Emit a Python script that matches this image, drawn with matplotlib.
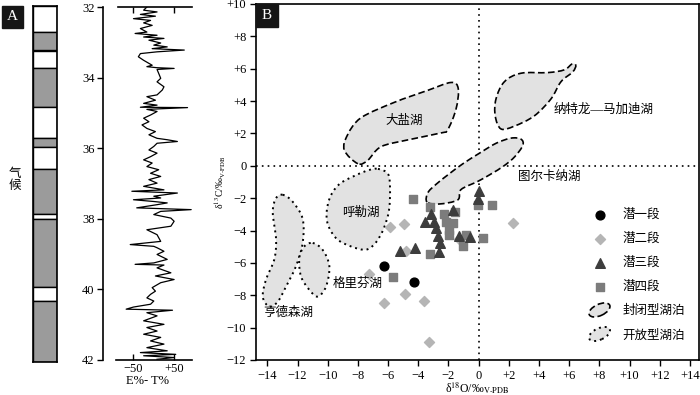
import matplotlib
matplotlib.use('Agg')
import matplotlib.pyplot as plt
import matplotlib.patches as mpatches
from matplotlib.path import Path
from matplotlib.legend_handler import HandlerPatch
import numpy as np

plt.rcParams['font.family'] = ['Liberation Serif', 'Noto Sans CJK SC']
plt.rcParams['mathtext.fontset'] = 'stix'

# ---- panel A data ----
climate_bounds = [32.0, 32.74, 33.25, 33.73, 34.83, 35.71, 35.97, 36.59, 37.84, 37.98, 39.90, 40.30, 42.0]
climate_gray = [False, True, False, True, False, True, False, True, False, True, False, True]

et_depth = [32.00, 32.09, 32.14, 32.21, 32.26, 32.33, 32.38, 32.45, 32.52, 32.61,
            32.71, 32.75, 32.80, 32.85, 32.89, 32.94, 33.02, 33.08, 33.13, 33.18,
            33.22, 33.27, 33.32, 33.41, 33.51, 33.65, 33.69, 33.72, 33.74, 33.77,
            33.88, 34.02, 34.12, 34.26, 34.35, 34.49, 34.54, 34.64, 34.73, 34.78,
            34.84, 34.85, 34.90, 34.96, 35.06, 35.15, 35.25, 35.34, 35.44, 35.53,
            35.62, 35.72, 35.76, 35.81, 35.86, 35.95, 36.05, 36.14, 36.24, 36.33,
            36.42, 36.52, 36.61, 36.71, 36.80, 36.89, 36.99, 37.08, 37.18, 37.22,
            37.27, 37.36,
            37.41, 37.46, 37.51, 37.55, 37.60, 37.69, 37.74, 37.79, 37.88, 37.98,
            38.07, 38.21, 38.31, 38.45, 38.64, 38.73, 38.78, 38.82, 38.92, 39.01,
            39.15, 39.25, 39.29, 39.31, 39.39, 39.53, 39.62, 39.72, 39.81, 39.95,
            40.05, 40.14, 40.24, 40.33, 40.42, 40.50, 40.56, 40.59, 40.66, 40.75,
            40.89, 40.99, 41.08, 41.18, 41.27, 41.36, 41.46, 41.55, 41.65, 41.74,
            41.79, 41.84, 41.88, 41.93, 41.98]
et_value = [-17, -25, 8, -33, 4, -50, -8, -25, -4, -33,
            -17, -46, 8, -25, 25, -12, 17, 0, 33, -4,
            75, 8, -33, -38, -25, -4, -17, 8, 50, 8,
            12, 17, 8, 25, 21, 8, -17, 4, -25, 8,
            -33, 83, -17, 8, -8, -25, -12, -29, -17, 4,
            -12, 8, 33, 58, 8, 0, -12, 8, -8, -25,
            -4, -17, 12, -8, 17, -12, 8, -25, 25, -54,
            58, 0,
            17, -50, 0, 33, 8, -42, 92, 17, 0, 42,
            50, 42, -17, 8, 17, -58, 0, 8, 25, 8,
            33, 0, -46, 25, 8, 42, 4, 50, 17, -4,
            4, -8, -17, 0, -8, -50, -68, 46, -17, 8,
            -25, 25, -17, 8, -25, 17, -8, 25, -17, 33,
            -33, 54, -25, 50, 8]

# ---- panel B data ----
m1_x = [-6.3, -4.25]
m1_y = [-6.2, -7.2]
m2_x = [-7.25, -5.9, -4.95, -4.8, -6.3, -4.9, -3.6, -3.3, 2.3, -1.3]
m2_y = [-6.7, -3.8, -3.6, -5.25, -8.45, -7.9, -8.35, -10.9, -3.55, -4.55]
m3_x = [-5.2, -4.2, -3.55, -3.15, -2.95, -2.85, -2.7, -2.55, -2.6, -1.7, -1.3, -0.6, 0.0, -0.05]
m3_y = [-5.25, -5.05, -3.45, -3.0, -3.45, -3.85, -4.35, -4.75, -5.3, -2.75, -4.35, -4.4, -1.55, -2.05]
m4_x = [-4.35, -3.25, -2.3, -1.55, -2.15, -1.7, -1.95, -1.95, -0.85, -1.05, -0.05, 0.9, 0.3, -3.2, -5.7]
m4_y = [-2.05, -2.55, -2.95, -2.85, -3.5, -3.55, -3.95, -4.25, -4.3, -4.95, -2.45, -2.45, -4.45, -5.45, -6.9]

lake_dayan = [(-8.0, 0.13), (-8.9, 0.97), (-8.68, 1.92), (-7.79, 2.97), (-5.59, 3.92), (-3.38, 4.66),
              (-1.83, 5.15), (-1.35, 4.77), (-1.5, 3.5), (-2.05, 2.23), (-2.5, 2.03), (-4.7, 1.6),
              (-6.47, 1.18), (-7.35, 0.34)]
lake_natron = [(6.44, 6.2), (6.23, 5.8), (5.45, 5.19), (4.79, 4.13), (3.68, 3.08), (2.36, 2.45),
               (1.48, 2.28), (1.1, 3.08), (1.15, 4.13), (1.7, 5.19), (2.8, 5.72), (4.57, 5.76),
               (5.67, 5.93), (6.2, 6.3)]
lake_turkana = [(-3.42, -2.24), (-3.36, -1.66), (-2.83, -1.15), (-1.97, -0.51), (-1.04, 0.13),
                (0.02, 0.76), (1.15, 1.39), (2.14, 1.71), (2.8, 1.65), (2.93, 1.27), (2.4, 0.57),
                (1.68, 0.0), (0.81, -0.51), (-0.05, -0.96), (-1.17, -1.47), (-1.39, -2.11),
                (-2.63, -2.36)]
lake_hule = [(-6.67, -0.19), (-6.0, -0.51), (-5.87, -1.47), (-5.94, -2.75), (-6.27, -3.83),
             (-6.8, -4.73), (-7.46, -5.18), (-8.46, -4.98), (-9.45, -4.47), (-10.05, -3.39),
             (-9.91, -2.11), (-9.25, -1.15), (-8.13, -0.58), (-7.26, -0.26)]
lake_henderson = [(-12.98, -1.79), (-12.32, -2.22), (-11.66, -3.28), (-11.66, -4.77), (-12.1, -6.2),
                  (-12.76, -7.46), (-13.31, -8.4), (-13.87, -8.7), (-14.3, -8.1), (-14.09, -7.04),
                  (-13.54, -5.79), (-13.42, -4.56), (-13.64, -2.86), (-13.42, -2.0)]
lake_griffin = [(-10.99, -4.77), (-10.33, -5.2), (-9.89, -6.2), (-10.11, -7.46), (-10.66, -8.08),
                (-11.22, -7.66), (-11.77, -6.83), (-11.88, -5.7), (-11.55, -4.98)]

closed_lakes = [(lake_dayan, '大盐湖', (-4.93, 2.8)),
                (lake_natron, '纳特龙—马加迪湖', (8.3, 3.5)),
                (lake_turkana, '图尔卡纳湖', (4.7, -0.7))]
open_lakes = [(lake_hule, '呼勒湖', (-7.8, -2.9)),
              (lake_henderson, '亨德森湖', (-12.6, -9.1)),
              (lake_griffin, '格里芬湖', (-8.0, -7.3))]


def smooth_closed(pts):
    # closed catmull-rom outline turned into bezier segments
    p = np.array(pts, dtype=float)
    n = len(p)
    verts = [p[0]]
    codes = [Path.MOVETO]
    for i in range(n):
        p0, p1, p2, p3 = p[i - 1], p[i], p[(i + 1) % n], p[(i + 2) % n]
        verts += [p1 + (p2 - p0) / 6, p2 - (p3 - p1) / 6, p2]
        codes += [Path.CURVE4] * 3
    return Path(verts, codes)


class HandlerEllipse(HandlerPatch):
    def create_artists(self, legend, orig_handle, xdescent, ydescent, width, height, fontsize, trans):
        c = (0.5 * width - xdescent, 0.5 * height - ydescent)
        p = mpatches.Ellipse(c, width * 1.0, height * 1.3, angle=25)
        self.update_prop(p, orig_handle, legend)
        p.set_transform(trans)
        return [p]


fig = plt.figure(figsize=(7, 3.95), dpi=100)
W, H = 700.0, 395.0


def px_axes(x0, y0, x1, y1):
    return fig.add_axes([x0 / W, 1 - y1 / H, (x1 - x0) / W, (y1 - y0) / H])


# ---- climate strip ----
ax_s = px_axes(33, 6, 57, 362)
for i in range(len(climate_gray)):
    b0, b1 = climate_bounds[i], climate_bounds[i + 1]
    ax_s.bar(0.5, b1 - b0, bottom=b0, width=1.0,
             color='#9b9b9b' if climate_gray[i] else 'white', edgecolor='black', linewidth=1.0)
ax_s.set_xlim(0, 1)
ax_s.set_ylim(42, 32)
ax_s.set_xticks([])
ax_s.set_yticks([])
for s in ax_s.spines.values():
    s.set_linewidth(1.2)

# ---- E%-T% curve ----
ax_c = px_axes(103, 7, 192, 360)
ax_c.plot(et_value, et_depth, color='black', lw=0.9)
ax_c.set_xlim(-125, 94)
ax_c.set_ylim(42, 32)
ax_c.spines['right'].set_visible(False)
ax_c.spines['top'].set_bounds(-88, 94)
ax_c.spines['bottom'].set_bounds(-93, 94)
for s in ax_c.spines.values():
    s.set_linewidth(1.2)
ax_c.set_yticks([32, 34, 36, 38, 40, 42])
ax_c.tick_params(axis='y', direction='out', length=4, width=1, pad=2, labelsize=9)
ax_c.set_xticks([-50, 50])
ax_c.set_xticklabels(['\u221250', '+50'])
ax_c.tick_params(axis='x', direction='in', length=4, width=1, pad=2, labelsize=9,
                 top=True, labeltop=False)
ax_c.set_xlabel('E%- T%', fontsize=9, labelpad=0)

# ---- panel B ----
ax = px_axes(256, 4, 699, 360)
ax.axhline(0, color='black', ls=(0, (1, 2.5)), lw=1.2, zorder=1)
ax.axvline(0, color='black', ls=(0, (1, 2.5)), lw=1.2, zorder=1)
for pts, name, (lx, ly) in closed_lakes:
    ax.add_patch(mpatches.PathPatch(smooth_closed(pts), facecolor='#e2e2e2', edgecolor='black',
                                    lw=1.2, ls=(0, (4, 2)), zorder=2))
    ax.text(lx, ly, name, fontsize=9, ha='center', va='center', zorder=5)
for pts, name, (lx, ly) in open_lakes:
    ax.add_patch(mpatches.PathPatch(smooth_closed(pts), facecolor='#e2e2e2', edgecolor='black',
                                    lw=1.4, ls=(0, (1, 2)), zorder=2))
    ax.text(lx, ly, name, fontsize=9, ha='center', va='center', zorder=5)

h1 = ax.scatter(m1_x, m1_y, marker='o', s=40, color='black', zorder=4)
h2 = ax.scatter(m2_x, m2_y, marker='D', s=26, color='#b5b5b5', zorder=3)
h3 = ax.scatter(m3_x, m3_y, marker='^', s=48, color='#3d3d3d', zorder=4)
h4 = ax.scatter(m4_x, m4_y, marker='s', s=26, color='#7c7c7c', zorder=3)
e1 = mpatches.Ellipse((0, 0), 1, 1, facecolor='#e2e2e2', edgecolor='black', lw=1.2, ls=(0, (4, 2)))
e2 = mpatches.Ellipse((0, 0), 1, 1, facecolor='#e2e2e2', edgecolor='black', lw=1.4, ls=(0, (1, 2)))
ax.legend([h1, h2, h3, h4, e1, e2], ['潜一段', '潜二段', '潜三段', '潜四段', '封闭型湖泊', '开放型湖泊'],
          loc='upper left', bbox_to_anchor=(0.75, 0.425), frameon=False, fontsize=9,
          handlelength=1.8, handletextpad=0.95, labelspacing=0.95, borderpad=0, borderaxespad=0,
          scatterpoints=1, handler_map={mpatches.Ellipse: HandlerEllipse()})

ax.set_xlim(-14.75, 14.6)
ax.set_ylim(-12, 10)
xt = list(range(-14, 15, 2))
ax.set_xticks(xt)
ax.set_xticklabels([('+%d' % v if v > 0 else ('0' if v == 0 else '\u2212%d' % -v)) for v in xt])
yt = list(range(-12, 11, 2))
ax.set_yticks(yt)
ax.set_yticklabels([('+%d' % v if v > 0 else ('0' if v == 0 else '\u2212%d' % -v)) for v in yt])
ax.tick_params(direction='out', length=4, width=1, pad=3, labelsize=9)
for s in ax.spines.values():
    s.set_linewidth(1.2)
ax.set_xlabel('δ$^{18}$O/‰$_{\\mathrm{V}\\text{-}\\mathrm{PDB}}$', fontsize=8.5, labelpad=-1)
ax.set_ylabel('δ$^{13}$C/‰$_{\\mathrm{V}\\text{-}\\mathrm{PDB}}$', fontsize=7, labelpad=-1)

# panel tags and climate caption
fig.add_artist(mpatches.Rectangle((2 / W, 1 - 28 / H), 21 / W, 22 / H, transform=fig.transFigure,
                                  color='#151515'))
fig.text(12.5 / W, 1 - 17 / H, 'A', color='white', fontsize=11, ha='center', va='center')
fig.add_artist(mpatches.Rectangle((256 / W, 1 - 27 / H), 22 / W, 23 / H, transform=fig.transFigure,
                                  color='#151515'))
fig.text(267 / W, 1 - 15.5 / H, 'B', color='white', fontsize=11, ha='center', va='center')
fig.text(15 / W, 1 - 180 / H, '气\n候', fontsize=9, ha='center', va='center', linespacing=1.1)

fig.savefig('out.png', dpi=100)
